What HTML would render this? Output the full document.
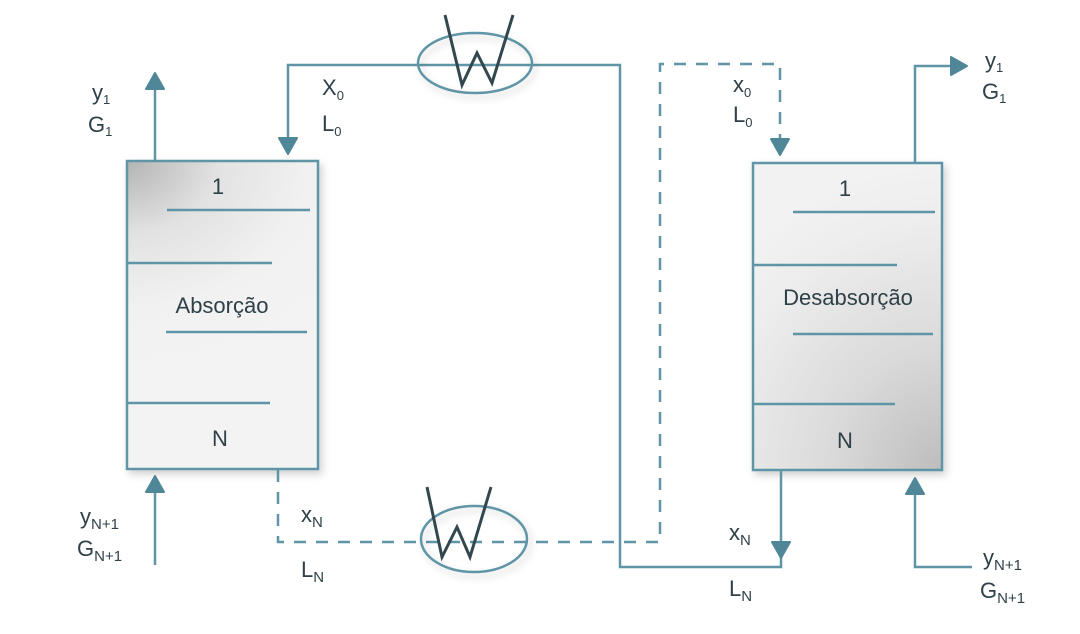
<!DOCTYPE html>
<html><head><meta charset="utf-8"><style>
html,body{margin:0;padding:0;background:#fff;width:1080px;height:634px;overflow:hidden}
text{font-family:"Liberation Sans",sans-serif;fill:#2f4048}
</style></head><body>
<svg width="1080" height="634" viewBox="0 0 1080 634" xmlns="http://www.w3.org/2000/svg">
<defs>
<radialGradient id="gl" cx="127" cy="161" r="260" gradientUnits="userSpaceOnUse" gradientTransform="translate(127,161) scale(1,0.8) translate(-127,-161)">
<stop offset="0" stop-color="#b4b4b4"/><stop offset="0.35" stop-color="#e2e2e2"/><stop offset="0.7" stop-color="#f1f1f1"/><stop offset="1" stop-color="#f3f3f3"/></radialGradient>
<radialGradient id="gr" cx="942" cy="470" r="280" gradientUnits="userSpaceOnUse" gradientTransform="translate(942,470) scale(1,1.1) translate(-942,-470)">
<stop offset="0" stop-color="#bdbdbd"/><stop offset="0.4" stop-color="#dadada"/><stop offset="0.8" stop-color="#ededed"/><stop offset="1" stop-color="#f2f2f2"/></radialGradient>
<filter id="sh" x="-20%" y="-20%" width="140%" height="140%"><feDropShadow dx="3" dy="4" stdDeviation="4" flood-color="#000" flood-opacity="0.18"/></filter>
</defs>
<g stroke="#5f95a6" stroke-width="2.5" fill="none">
<rect x="127" y="161" width="191" height="308" fill="url(#gl)" filter="url(#sh)"/>
<rect x="753" y="163" width="189" height="307" fill="url(#gr)" filter="url(#sh)"/>
<line x1="167" y1="210" x2="310" y2="210"/><line x1="128" y1="263" x2="272" y2="263"/>
<line x1="166" y1="332" x2="307" y2="332"/><line x1="128" y1="403" x2="270" y2="403"/>
<line x1="793" y1="212" x2="935" y2="212"/><line x1="754" y1="265" x2="897" y2="265"/>
<line x1="793" y1="334" x2="933" y2="334"/><line x1="754" y1="404" x2="895" y2="404"/>
<line x1="155" y1="160" x2="155" y2="85"/>
<line x1="155" y1="565" x2="155" y2="488"/>
<polyline points="288,140 288,65 620,65 620,567 781,567 781,470"/>
<polyline points="915,162 915,66 958,66"/>
<polyline points="972,567 915,567 915,488"/>
<g stroke-dasharray="12,10"><polyline points="278,470 278,542 660,542 660,64 780,64 780,140"/></g>
<ellipse cx="475" cy="63" rx="57" ry="30" filter="url(#sh)" fill="none"/>
<ellipse cx="474" cy="539" rx="53" ry="33" filter="url(#sh)" fill="none"/>
</g>
<g stroke="#33474f" stroke-width="3" fill="none" stroke-linejoin="miter">
<polyline points="445,15 462,85 477,53 492,83 513,15"/>
<polyline points="427,487 442,557 457,527 470,557 491,487"/>
</g>
<g fill="#4f8798" stroke="#4f8798" stroke-width="2" stroke-linejoin="round">
<path d="M155,73 L164,89 L146,89 Z"/>
<path d="M155,476 L164,492 L146,492 Z"/>
<path d="M288,154 L279,138 L297,138 Z"/>
<path d="M780,155 L771,139 L789,139 Z"/>
<path d="M781,558 L772,542 L790,542 Z"/>
<path d="M967,66 L951,57 L951,75 Z"/>
<path d="M915,478 L924,494 L906,494 Z"/>
</g>
<g font-size="22">
<text x="218" y="194" text-anchor="middle">1</text>
<text x="222" y="313" text-anchor="middle">Absorção</text>
<text x="220" y="446" text-anchor="middle">N</text>
<text x="845" y="196" text-anchor="middle">1</text>
<text x="848" y="305" text-anchor="middle">Desabsorção</text>
<text x="845" y="448" text-anchor="middle">N</text>
<text x="92" y="100">y<tspan font-size="13" dy="4">1</tspan></text>
<text x="88" y="132">G<tspan font-size="13" dy="4">1</tspan></text>
<text x="322" y="95">X<tspan font-size="13" dy="5">0</tspan></text>
<text x="322" y="131">L<tspan font-size="13" dy="5">0</tspan></text>
<text x="733" y="92">x<tspan font-size="13" dy="5">0</tspan></text>
<text x="733" y="122">L<tspan font-size="13" dy="5">0</tspan></text>
<text x="985" y="68">y<tspan font-size="13" dy="4">1</tspan></text>
<text x="982" y="99">G<tspan font-size="13" dy="4">1</tspan></text>
<text x="80" y="524">y<tspan font-size="15" dy="5">N+1</tspan></text>
<text x="77" y="556">G<tspan font-size="15" dy="5">N+1</tspan></text>
<text x="301" y="522">x<tspan font-size="15" dy="5">N</tspan></text>
<text x="301" y="577">L<tspan font-size="15" dy="5">N</tspan></text>
<text x="729" y="540">x<tspan font-size="15" dy="5">N</tspan></text>
<text x="729" y="596">L<tspan font-size="15" dy="5">N</tspan></text>
<text x="983" y="565">y<tspan font-size="15" dy="5">N+1</tspan></text>
<text x="980" y="598">G<tspan font-size="15" dy="5">N+1</tspan></text>
</g>
</svg>
</body></html>
